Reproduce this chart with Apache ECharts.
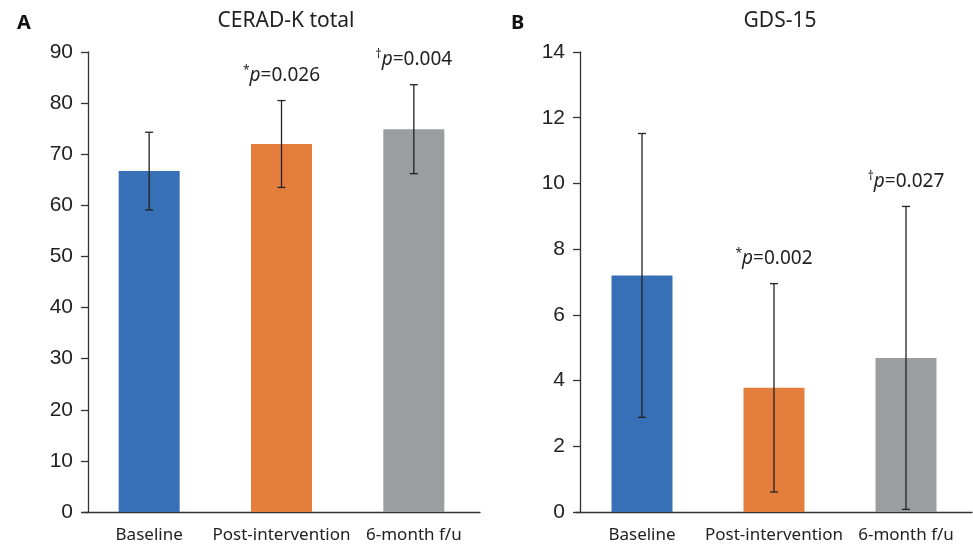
<!DOCTYPE html>
<html>
<head>
<meta charset="utf-8">
<script src="https://cdn.jsdelivr.net/npm/echarts@6/dist/echarts.min.js"></script>
<style>
html,body{margin:0;padding:0;background:#fff;}
#chart{width:973px;height:550px;}
</style>
</head>
<body>
<div id="chart"></div>
<script>
// ---- data ----
var categories = ['Baseline', 'Post-intervention', '6-month f/u'];
var ceradMean = [66.7, 72.0, 74.9];
var ceradSD = [7.6, 8.5, 8.7];
var ceradNotes = [null, ['*', '=0.026'], ['\u2020', '=0.004']];
var gdsMean = [7.2, 3.78, 4.69];
var gdsSD = [4.32, 3.17, 4.61];
var gdsNotes = [null, ['*', '=0.002'], ['\u2020', '=0.027']];
var titles = ['CERAD-K total', 'GDS-15'];
var panelLabels = ['A', 'B'];
var ceradTicks = {min: 0, max: 90, interval: 10};
var gdsTicks = {min: 0, max: 14, interval: 2};

// ---- style ----
var barColors = ['#3870B8', '#E37E3C', '#9B9D9E'];
var axisColor = '#333';
var textColor = '#222';
var numFont = '"Liberation Sans", Arial, sans-serif';
var txtFont = '"Noto Sans", "Open Sans", sans-serif';

function barData(means) {
  return means.map(function (v, i) {
    return {value: v, itemStyle: {color: barColors[i]}};
  });
}
function errData(means, sds) {
  return means.map(function (m, i) { return [i, m, sds[i]]; });
}
function makeRender(notes) {
  return function (params, api) {
    var x = api.value(0), m = api.value(1), sd = api.value(2);
    var hi = api.coord([x, m + sd]);
    var lo = api.coord([x, m - sd]);
    var hw = 4;
    var st = {stroke: '#222', lineWidth: 1.3};
    var children = [
      {type: 'line', shape: {x1: hi[0], y1: hi[1], x2: lo[0], y2: lo[1]}, style: st},
      {type: 'line', shape: {x1: hi[0] - hw, y1: hi[1], x2: hi[0] + hw, y2: hi[1]}, style: st},
      {type: 'line', shape: {x1: lo[0] - hw, y1: lo[1], x2: lo[0] + hw, y2: lo[1]}, style: st}
    ];
    var note = notes[params.dataIndex];
    if (note) {
      children.push({
        type: 'text', x: hi[0], y: hi[1] - 25,
        style: {
          text: '{s|' + note[0] + '}{i|p}{n|' + note[1] + '}',
          align: 'center', verticalAlign: 'middle',
          rich: {
            s: {fontSize: 12, fontFamily: txtFont, fill: textColor, verticalAlign: 'top', lineHeight: 22},
            i: {fontSize: 19, fontFamily: txtFont, fontStyle: 'italic', fill: textColor, lineHeight: 22},
            n: {fontSize: 19, fontFamily: txtFont, fill: textColor, lineHeight: 22}
          }
        }
      });
    }
    return {type: 'group', children: children};
  };
}

function xAxisCfg(gi) {
  return {
    type: 'category', gridIndex: gi, data: categories,
    axisLine: {lineStyle: {color: axisColor, width: 1.3}},
    axisTick: {alignWithLabel: true, length: 6, lineStyle: {color: axisColor, width: 1.3}},
    axisLabel: {color: textColor, fontSize: 17, fontFamily: txtFont, margin: 15, interval: 0}
  };
}
function yAxisCfg(gi, t) {
  return {
    type: 'value', gridIndex: gi, min: t.min, max: t.max, interval: t.interval,
    offset: gi === 0 ? -5 : -4,
    axisLine: {show: true, lineStyle: {color: axisColor, width: 1.3}},
    axisTick: {show: true, length: 7, lineStyle: {color: axisColor, width: 1.3}},
    splitLine: {show: false},
    axisLabel: {color: textColor, fontSize: 21, fontFamily: numFont, margin: 15}
  };
}

var chart = echarts.init(document.getElementById('chart'));
chart.setOption({
  backgroundColor: '#fff',
  animation: false,
  title: [
    {text: titles[0], left: 281, top: 6, textAlign: 'center',
      textStyle: {fontSize: 21, fontWeight: 'normal', color: textColor, fontFamily: txtFont}},
    {text: titles[1], left: 775, top: 6, textAlign: 'center',
      textStyle: {fontSize: 21, fontWeight: 'normal', color: textColor, fontFamily: txtFont}},
    {text: panelLabels[0], left: 12, top: 8,
      textStyle: {fontSize: 20, fontWeight: 'bold', color: '#111', fontFamily: txtFont}},
    {text: panelLabels[1], left: 506, top: 8,
      textStyle: {fontSize: 20, fontWeight: 'bold', color: '#111', fontFamily: txtFont}}
  ],
  grid: [
    {left: 83, width: 397, top: 52, bottom: 38},
    {left: 576, width: 396, top: 52, bottom: 38}
  ],
  xAxis: [xAxisCfg(0), xAxisCfg(1)],
  yAxis: [yAxisCfg(0, ceradTicks), yAxisCfg(1, gdsTicks)],
  series: [
    {type: 'bar', xAxisIndex: 0, yAxisIndex: 0, data: barData(ceradMean), barWidth: 61},
    {type: 'custom', xAxisIndex: 0, yAxisIndex: 0, data: errData(ceradMean, ceradSD),
      renderItem: makeRender(ceradNotes), z: 5},
    {type: 'bar', xAxisIndex: 1, yAxisIndex: 1, data: barData(gdsMean), barWidth: 61},
    {type: 'custom', xAxisIndex: 1, yAxisIndex: 1, data: errData(gdsMean, gdsSD),
      renderItem: makeRender(gdsNotes), z: 5}
  ]
});
</script>
</body>
</html>
